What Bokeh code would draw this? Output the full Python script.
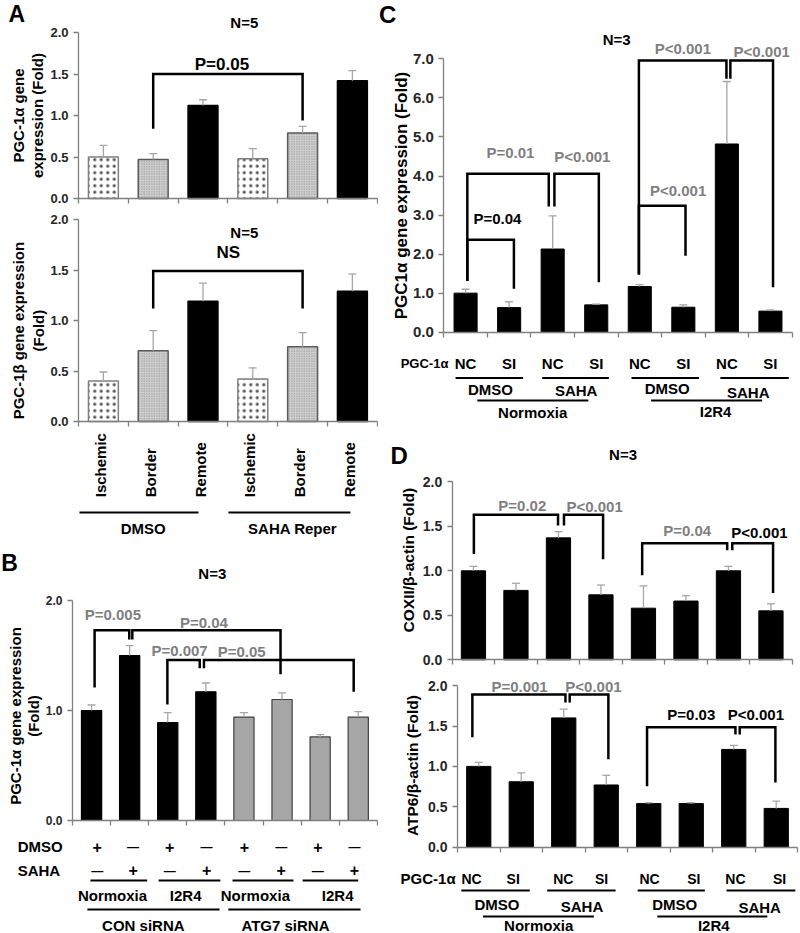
import math
from bokeh.plotting import figure
from bokeh.models import Range1d, FixedTicker, PrintfTickFormatter, ColumnDataSource
from bokeh.layouts import row, column
from bokeh.core.properties import value
from bokeh.embed import file_html
from bokeh.resources import INLINE

FONT = "Liberation Sans"
GREY_TXT = "#7f7f7f"
ERR_COL = "#a6a6a6"
AX_COL = "#808080"
TICK_TXT = "#262626"

# ---------------- Panel A ----------------
a_regions = ["Ischemic", "Border", "Remote", "Ischemic", "Border", "Remote"]
a_treat = ["DMSO", "SAHA Reper"]
a1_mean = [0.50, 0.47, 1.12, 0.48, 0.79, 1.42]
a1_sem = [0.14, 0.07, 0.07, 0.12, 0.08, 0.12]
a2_mean = [0.40, 0.70, 1.19, 0.42, 0.74, 1.29]
a2_sem = [0.09, 0.20, 0.18, 0.11, 0.14, 0.17]
# brackets: (x_left, x_right, top, left_leg_end, right_leg_end)
a1_br = [(2.0, 5.0, 1.50, 0.84, 0.94)]
a1_lab = [("P=0.05", 3.38, 1.62, "black")]
a2_br = [(2.0, 5.0, 1.49, 1.12, 1.12)]
a2_lab = [("NS", 3.51, 1.67, "black")]

# ---------------- Panel B ----------------
b_mean = [1.00, 1.50, 0.89, 1.17, 0.94, 1.10, 0.76, 0.94]
b_sem = [0.05, 0.09, 0.09, 0.08, 0.04, 0.06, 0.02, 0.05]
b_dmso = ["+", "—", "+", "—", "+", "—", "+", "—"]
b_saha = ["—", "+", "—", "+", "—", "+", "—", "+"]
b_sign_x = [1.15, 2.09, 3.05, 4.02, 5.01, 5.98, 6.94, 7.90]
b_cond = ["Normoxia", "I2R4", "Normoxia", "I2R4"]
b_sirna = ["CON siRNA", "ATG7 siRNA"]
b_br = [(1.08, 1.99, 1.73, 1.21, 1.645),
        (2.07, 5.96, 1.73, 1.645, 1.33),
        (2.99, 3.84, 1.46, 1.055, 1.385),
        (3.95, 7.88, 1.46, 1.385, 1.17)]
b_lab = [("P=0.005", 1.56, 1.87, GREY_TXT), ("P=0.04", 3.95, 1.80, GREY_TXT),
         ("P=0.007", 3.31, 1.545, GREY_TXT), ("P=0.05", 4.94, 1.535, GREY_TXT)]

# ---------------- Panel C ----------------
c_mean = [1.00, 0.63, 2.13, 0.70, 1.17, 0.64, 4.82, 0.54]
c_sem = [0.10, 0.15, 0.85, 0.02, 0.05, 0.06, 1.60, 0.03]
cd_pgc = ["NC", "SI", "NC", "SI", "NC", "SI", "NC", "SI"]
cd_drug = ["DMSO", "SAHA", "DMSO", "SAHA"]
cd_cond = ["Normoxia", "I2R4"]
c_br = [(1.04, 2.11, 2.37, 1.31, 1.11),
        (1.04, 2.91, 4.06, 1.31, 3.22),
        (3.04, 4.06, 4.06, 3.22, 1.28),
        (4.98, 6.05, 3.24, 1.48, 1.96),
        (4.98, 6.99, 6.96, 1.48, 6.49),
        (7.08, 8.06, 6.96, 6.49, 1.15)]
c_lab = [("P=0.04", 1.73, 2.90, "black"), ("P=0.01", 2.03, 4.59, GREY_TXT),
         ("P<0.001", 3.68, 4.51, GREY_TXT), ("P<0.001", 5.88, 3.63, GREY_TXT),
         ("P<0.001", 5.99, 7.26, GREY_TXT), ("P<0.001", 7.80, 7.19, GREY_TXT)]

# ---------------- Panel D ----------------
d1_mean = [1.00, 0.78, 1.37, 0.73, 0.58, 0.66, 1.00, 0.55]
d1_sem = [0.05, 0.08, 0.07, 0.11, 0.25, 0.06, 0.05, 0.08]
d2_mean = [1.00, 0.81, 1.60, 0.77, 0.54, 0.54, 1.21, 0.48]
d2_sem = [0.05, 0.11, 0.11, 0.12, 0.01, 0.01, 0.05, 0.09]
d2_pgc_x = [0.83, 1.81, 2.99, 3.89, 5.02, 6.06, 7.04, 8.08]
d1_br = [(1.01, 2.99, 1.63, 1.19, 1.51),
         (3.13, 4.05, 1.63, 1.51, 1.13),
         (4.97, 6.97, 1.31, 0.95, 1.23),
         (7.09, 8.05, 1.31, 1.23, 0.75)]
d1_lab = [("P=0.02", 2.15, 1.73, GREY_TXT), ("P<0.001", 3.85, 1.72, GREY_TXT),
          ("P=0.04", 6.03, 1.45, GREY_TXT), ("P<0.001", 7.73, 1.43, "black")]
d2_br = [(0.85, 3.04, 1.89, 1.36, 1.79),
         (3.14, 4.05, 1.89, 1.79, 1.09),
         (4.96, 7.04, 1.485, 0.755, 1.395),
         (7.14, 7.98, 1.485, 1.395, 0.80)]
d2_lab = [("P=0.001", 1.96, 1.99, GREY_TXT), ("P<0.001", 3.70, 1.99, GREY_TXT),
          ("P=0.03", 6.00, 1.64, "black"), ("P<0.001", 7.52, 1.64, "black")]


def make_fig(w, h, axis_px, cw, zero_px, upx, n, ymax, ystep, tick_size):
    x0 = 0.5 - axis_px / cw
    y1 = zero_px / upx
    p = figure(width=w, height=h, x_range=Range1d(x0, x0 + w / cw),
               y_range=Range1d(y1 - h / upx, y1),
               output_backend="svg", toolbar_location=None)
    p.min_border_left = p.min_border_right = 0
    p.min_border_top = p.min_border_bottom = 0
    p.outline_line_color = None
    p.background_fill_color = "white"
    p.border_fill_color = "white"
    p.xgrid.visible = False
    p.ygrid.visible = False
    ya = p.yaxis[0]
    ya.fixed_location = 0.5
    ya.bounds = (0, ymax)
    nt = int(round(ymax / ystep))
    ya.ticker = FixedTicker(ticks=[round(i * ystep, 3) for i in range(nt + 1)], minor_ticks=[])
    ya.formatter = PrintfTickFormatter(format="%.1f")
    ya.major_tick_out = 5
    ya.major_tick_in = 0
    ya.minor_tick_out = 0
    ya.minor_tick_in = 0
    ya.major_label_standoff = 5
    ya.major_label_text_font = FONT
    ya.major_label_text_font_style = "bold"
    ya.major_label_text_font_size = tick_size
    ya.major_label_text_color = TICK_TXT
    ya.axis_line_color = AX_COL
    ya.axis_line_width = 1.3
    ya.major_tick_line_color = AX_COL
    ya.major_tick_line_width = 1.3
    xa = p.xaxis[0]
    xa.fixed_location = 0
    xa.bounds = (0.5, n + 0.5)
    # category boundaries drawn as (label-free) minor ticks
    xa.ticker = FixedTicker(ticks=[], minor_ticks=[i + 0.5 for i in range(n + 1)])
    xa.major_tick_out = 0
    xa.major_tick_in = 0
    xa.minor_tick_out = 5
    xa.minor_tick_in = 0
    xa.axis_line_color = AX_COL
    xa.axis_line_width = 1.3
    xa.minor_tick_line_color = AX_COL
    xa.minor_tick_line_width = 1.3
    p._cw = cw
    return p


def label(p, xs, ys, texts, size="15px", color="black", align="center",
          angle=0.0, baseline="middle"):
    data = dict(x=list(xs), y=list(ys), t=list(texts))
    kw = {}
    if isinstance(color, list):
        data["c"] = color
        kw["text_color"] = "c"
    else:
        kw["text_color"] = color
    src = ColumnDataSource(data)
    p.text(x="x", y="y", text="t", source=src, text_font=value(FONT),
           text_font_style="bold", text_font_size=size, text_align=align,
           text_baseline=baseline, angle=angle, **kw)


def bars(p, mean, sem, width, fill, line, lw=1.2, hatch=None, hscale=None,
         hcolor=None, hweight=None):
    n = len(mean)
    xs = list(range(1, n + 1))
    data = dict(x=xs, top=mean, fill=fill, line=line)
    kw = {}
    if hatch is not None:
        data["hp"] = hatch
        data["hs"] = hscale
        data["hc"] = hcolor
        data["hw"] = hweight
        kw = dict(hatch_pattern="hp", hatch_scale="hs", hatch_color="hc", hatch_weight="hw")
    src = ColumnDataSource(data)
    p.vbar(x="x", top="top", bottom=0, width=width, source=src, fill_color="fill",
           line_color="line", line_width=lw, **kw)
    tops = [m + s for m, s in zip(mean, sem)]
    cap = 4.0 / p._cw
    p.segment(x0=xs, y0=mean, x1=xs, y1=tops, line_color=ERR_COL, line_width=1.3)
    p.segment(x0=[x - cap for x in xs], y0=tops, x1=[x + cap for x in xs], y1=tops,
              line_color=ERR_COL, line_width=1.3)


def brackets(p, br, labs, size="15px"):
    xs = [[b[0], b[0], b[1], b[1]] for b in br]
    ys = [[b[3], b[2], b[2], b[4]] for b in br]
    p.multi_line(xs=xs, ys=ys, line_color="black", line_width=2.5, line_join="miter")
    label(p, [l[1] for l in labs], [l[2] for l in labs], [l[0] for l in labs],
          size=size, color=[l[3] for l in labs])


def hlines(p, segs, y, lw=2.0):
    p.segment(x0=[s[0] for s in segs], y0=[y] * len(segs), x1=[s[1] for s in segs],
              y1=[y] * len(segs), line_color="black", line_width=lw)


# ---------- A styles ----------
a_fill = ["white", "#cfcfcf", "black"] * 2
a_line = ["#7f7f7f", "#5a5a5a", "black"] * 2
a_hatch = [".", ".", " "] * 2
a_hscale = [6.5, 2.5, 8] * 2
a_hcolor = ["#555555", "#8a8a8a", "black"] * 2
a_hweight = [0.2, 0.3, 1.0] * 2

# ---------- A1 ----------
pa1 = make_fig(378, 212, 78, 49.8, 198, 83, 6, 2.0, 0.5, "13px")
bars(pa1, a1_mean, a1_sem, 0.6, a_fill, a_line, 1.5, a_hatch, a_hscale, a_hcolor, a_hweight)
brackets(pa1, a1_br, a1_lab, size="17px")
label(pa1, [pa1.x_range.start + 0.16], [pa1.y_range.end], ["A"], size="23px",
      align="left", baseline="top")
label(pa1, [3.83], [2.12], ["N=5"], size="15px")
label(pa1, [-0.70], [1.0], ["PGC-1α gene"], size="15px", angle=math.pi / 2)
label(pa1, [-0.32], [1.0], ["expression (Fold)"], size="15px", angle=math.pi / 2)

# ---------- A2 ----------
pa2 = make_fig(378, 328, 78, 49.8, 209, 101, 6, 2.0, 0.5, "13px")
bars(pa2, a2_mean, a2_sem, 0.6, a_fill, a_line, 1.5, a_hatch, a_hscale, a_hcolor, a_hweight)
brackets(pa2, a2_br, a2_lab, size="17px")
label(pa2, [3.83], [1.87], ["N=5"], size="15px")
label(pa2, [-0.70], [0.90], ["PGC-1β gene expression"], size="15px", angle=math.pi / 2)
label(pa2, [-0.30], [0.90], ["(Fold)"], size="15px", angle=math.pi / 2)
label(pa2, [i - 0.06 for i in range(1, 7)], [-0.75] * 6, a_regions, size="15px",
      align="left", angle=math.pi / 2)
hlines(pa2, [(0.52, 2.91), (3.51, 5.96)], -0.90)
label(pa2, [1.80, 4.80], [-1.06, -1.06], a_treat, size="15px")

# ---------- B ----------
pb = make_fig(378, 393, 72, 38.1, 280, 110, 8, 2.0, 1.0, "12px")
bars(pb, b_mean, b_sem, 0.53, ["black"] * 4 + ["#a6a6a6"] * 4,
     ["black"] * 4 + ["#404040"] * 4, 1.2)
brackets(pb, b_br, b_lab, size="15px")
label(pb, [pb.x_range.start + 0.02], [2.345], ["B"], size="23px", align="left")
label(pb, [4.17], [2.245], ["N=3"], size="15px")
label(pb, [-1.00], [0.95], ["PGC-1α gene expression"], size="15px", angle=math.pi / 2)
label(pb, [-0.52], [0.95], ["(Fold)"], size="15px", angle=math.pi / 2)
label(pb, [-0.94, -0.94], [-0.236, -0.455], ["DMSO", "SAHA"], size="15px", align="left")
label(pb, [x for x, s in zip(b_sign_x, b_dmso) if s == "+"], [-0.24] * 4,
      [s for s in b_dmso if s == "+"], size="16px")
label(pb, [x for x, s in zip(b_sign_x, b_dmso) if s != "+"], [-0.237] * 4,
      [s for s in b_dmso if s != "+"], size="12px")
label(pb, [x for x, s in zip(b_sign_x, b_saha) if s == "+"], [-0.45] * 4,
      [s for s in b_saha if s == "+"], size="16px")
label(pb, [x for x, s in zip(b_sign_x, b_saha) if s != "+"], [-0.46] * 4,
      [s for s in b_saha if s != "+"], size="12px")
hlines(pb, [(0.97, 2.46), (2.76, 4.38), (4.70, 6.30), (6.54, 8.00)], -0.545)
label(pb, [1.55, 3.47, 5.30, 7.46], [-0.682] * 4, b_cond, size="15px")
hlines(pb, [(0.89, 4.36), (4.59, 8.06)], -0.809)
label(pb, [2.36, 6.09], [-0.95] * 2, b_sirna, size="15px")

# ---------- C ----------
pc = make_fig(422, 428, 65.3, 43.55, 331.7, 39.05, 8, 7.0, 1.0, "15px")
bars(pc, c_mean, c_sem, 0.53, ["black"] * 8, ["black"] * 8, 1.0)
brackets(pc, c_br, c_lab, size="15px")
label(pc, [pc.x_range.start + 0.01], [pc.y_range.end], ["C"], size="24px",
      align="left", baseline="top")
label(pc, [4.47], [7.50], ["N=3"], size="15px")
label(pc, [-0.47], [3.5], ["PGC1α gene expression (Fold)"], size="17px", angle=math.pi / 2)
label(pc, [-0.49], [-0.79], ["PGC-1α"], size="13px", align="left")
label(pc, list(range(1, 9)), [-0.79] * 8, cd_pgc, size="15px")
hlines(pc, [(0.77, 2.32), (2.76, 4.29), (4.81, 6.36), (6.85, 8.42)], -1.17)
label(pc, [1.57, 3.54, 5.63, 7.49], [-1.47, -1.49, -1.44, -1.55], cd_drug, size="15px")
hlines(pc, [(1.27, 3.82), (5.26, 7.81)], -1.75)
label(pc, [2.54, 6.74], [-2.05, -2.03], cd_cond, size="15px")

# ---------- D1 ----------
pd1 = make_fig(422, 242, 73.7, 42.5, 231.3, 89, 8, 2.0, 0.5, "14px")
bars(pd1, d1_mean, d1_sem, 0.57, ["black"] * 8, ["black"] * 8, 1.0)
brackets(pd1, d1_br, d1_lab, size="15px")
label(pd1, [-0.95], [2.30], ["D"], size="24px", align="left")
label(pd1, [4.52], [2.31], ["N=3"], size="15px")
label(pd1, [-0.53], [1.12], ["COXII/β-actin (Fold)"], size="15.5px", angle=math.pi / 2)

# ---------- D2 ----------
pd2 = make_fig(422, 263, 79, 42.5, 176.7, 80.8, 8, 2.0, 0.5, "14px")
bars(pd2, d2_mean, d2_sem, 0.57, ["black"] * 8, ["black"] * 8, 1.0)
brackets(pd2, d2_br, d2_lab, size="15px")
label(pd2, [-0.57], [1.01], ["ATP6/β-actin (Fold)"], size="15.5px", angle=math.pi / 2)
label(pd2, [-0.84], [-0.391], ["PGC-1α"], size="15px", align="left")
label(pd2, d2_pgc_x, [-0.391] * 8, cd_pgc, size="14px")
hlines(pd2, [(0.59, 2.20), (2.61, 4.22), (4.74, 6.32), (6.83, 8.45)], -0.536)
label(pd2, [1.43, 3.43, 5.61, 7.61], [-0.713, -0.734, -0.713, -0.743], cd_drug, size="15px")
hlines(pd2, [(1.10, 3.71), (5.20, 7.79)], -0.858)
label(pd2, [2.41, 6.53], [-0.975] * 2, cd_cond, size="15px")

layout = row(column(pa1, pa2, pb), column(pc, pd1, pd2))
open("out.html", "w").write(file_html(layout, INLINE))
